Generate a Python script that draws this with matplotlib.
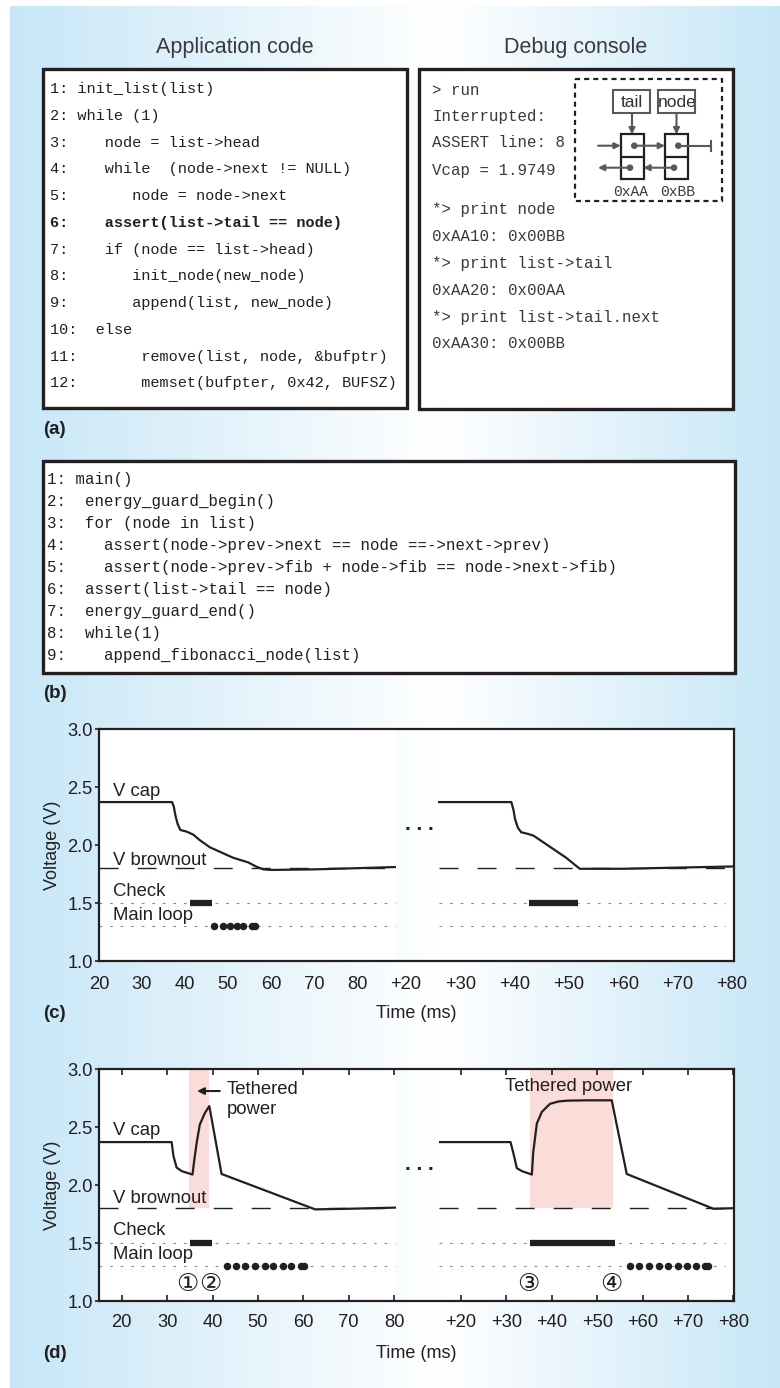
import numpy as np
import matplotlib.pyplot as plt
from matplotlib.patches import Rectangle, Circle

plt.rcParams['font.family'] = ['Liberation Sans', 'DejaVu Sans', 'Noto Sans CJK JP']

# ---------------- data ----------------
app_code = ["1: init_list(list)",
            "2: while (1)",
            "3:    node = list->head",
            "4:    while  (node->next != NULL)",
            "5:       node = node->next",
            "6:    assert(list->tail == node)",
            "7:    if (node == list->head)",
            "8:       init_node(new_node)",
            "9:       append(list, new_node)",
            "10:  else",
            "11:       remove(list, node, &bufptr)",
            "12:       memset(bufpter, 0x42, BUFSZ)"]
bold_line = 5

console = ["> run", "Interrupted:", "ASSERT line: 8", "Vcap = 1.9749",
           "*> print node", "0xAA10: 0x00BB", "*> print list->tail",
           "0xAA20: 0x00AA", "*> print list->tail.next", "0xAA30: 0x00BB"]

guard_code = ["1: main()",
              "2:  energy_guard_begin()",
              "3:  for (node in list)",
              "4:    assert(node->prev->next == node ==->next->prev)",
              "5:    assert(node->prev->fib + node->fib == node->next->fib)",
              "6:  assert(list->tail == node)",
              "7:  energy_guard_end()",
              "8:  while(1)",
              "9:    append_fibonacci_node(list)"]

yticks = [1.0, 1.5, 2.0, 2.5, 3.0]
xticks = [20, 30, 40, 50, 60, 70, 80]
left_labels = ['20', '30', '40', '50', '60', '70', '80']
right_labels = ['+20', '+30', '+40', '+50', '+60', '+70', '+80']

v_brownout = 1.8
check_level = 1.5
loop_level = 1.3

# panel (c): no tethered power
c1_t = [20, 37.0, 37.4, 37.8, 38.3, 38.9, 40.4, 41.9, 43.5, 45.8, 48.5, 51.2, 54.7, 56.5, 58.2, 60, 70, 80, 88.8]
c1_v = [2.37, 2.37, 2.33, 2.25, 2.18, 2.13, 2.115, 2.09, 2.04, 1.98, 1.935, 1.89, 1.85, 1.815, 1.79, 1.785, 1.79, 1.80, 1.81]
c2_t = [26.1, 39.4, 39.8, 40.1, 40.6, 41.2, 42.5, 43.5, 46.5, 49.5, 52.0, 60, 70, 80.4]
c2_v = [2.37, 2.37, 2.30, 2.22, 2.15, 2.11, 2.095, 2.08, 1.985, 1.89, 1.795, 1.795, 1.805, 1.815]
c1_check = [41.2, 46.3]
c2_check = [42.7, 51.7]
c1_loop = [46.8, 48.8, 50.5, 52.0, 53.4, 55.5, 56.3]

# panel (d): tethered power
d1_t = [15, 31.0, 31.4, 32.1, 33.2, 35.6, 36.0, 36.5, 37.2, 38.3, 39.3, 42.0, 62.6, 70, 80.2]
d1_v = [2.37, 2.37, 2.25, 2.15, 2.12, 2.09, 2.22, 2.36, 2.52, 2.62, 2.68, 2.095, 1.79, 1.795, 1.805]
d2_t = [15.2, 30.9, 31.5, 32.3, 33.4, 35.6, 35.9, 36.7, 37.8, 39.6, 41.5, 43.3, 48, 53.2, 56.5, 75.6, 80.1]
d2_v = [2.37, 2.37, 2.28, 2.145, 2.12, 2.09, 2.28, 2.53, 2.63, 2.70, 2.72, 2.727, 2.73, 2.73, 2.095, 1.795, 1.80]
d1_check = [35.1, 39.9]
d2_check = [35.1, 54.0]
d1_loop = [43.3, 45.2, 47.2, 49.4, 51.6, 53.4, 55.5, 57.4, 59.5, 60.2]
d2_loop = [57.2, 59.3, 61.3, 63.5, 65.7, 67.7, 69.7, 71.8, 73.7, 74.5]
d1_tether = [34.9, 39.2]
d2_tether = [35.1, 53.4]
d1_marks = [('\u2460', 34.45), ('\u2461', 39.6)]
d2_marks = [('\u2462', 34.8), ('\u2463', 53.0)]

# ---------------- layout helpers ----------------
W, H = 780, 1388
ink = '#231f20'
grey = '#58595b'
dotgrey = '#8a8c8e'
pink = '#fadcd8'

fig = plt.figure(figsize=(W / 100, H / 100), dpi=100)


def frac(x0, y0, x1, y1):
    return [x0 / W, 1 - y1 / H, (x1 - x0) / W, (y1 - y0) / H]


def ftext(x, y, s, **kw):
    fig.text(x / W, 1 - y / H, s, **kw)


# background gradient
bg = fig.add_axes([0, 0, 1, 1], zorder=0)
xs = np.arange(10, W) + 0.5
f = np.where(xs < 440, (440 - xs) / 430, (xs - 440) / 340)
blue = np.array([0.78, 0.905, 0.97])
row = 1 - f[:, None] * (1 - blue)
bg.imshow(np.repeat(row[None, :, :], 2, axis=0), extent=[10, W, H, 6],
          aspect='auto', interpolation='bilinear', zorder=0)
bg.set_xlim(0, W)
bg.set_ylim(H, 0)
bg.axis('off')

# ---------------- (a) code + console ----------------
ftext(234.5, 48, 'Application code', ha='center', va='center', fontsize=15.5, color='#3a3a3a')
ftext(576, 48, 'Debug console', ha='center', va='center', fontsize=15.5, color='#3a3a3a')

bg.add_patch(Rectangle((43, 69), 364, 339, fc='white', ec=ink, lw=2.4, zorder=1))
bg.add_patch(Rectangle((419, 69), 314, 340, fc='white', ec=ink, lw=2.4, zorder=1))

for i, line in enumerate(app_code):
    bg.text(50, 89 + 26.75 * i, line, family='Liberation Mono', fontsize=11.0,
            va='center', ha='left', color=ink,
            weight='bold' if i == bold_line else 'normal', zorder=2)

console_y = [90, 116, 142.7, 170, 209.3, 236.7, 263.3, 290.7, 317.3, 343.3]
for y, line in zip(console_y, console):
    bg.text(432, y, line, family='Liberation Mono', fontsize=11.3,
            va='center', ha='left', color='#3a3a3a', zorder=2)

# inset linked-list sketch
bg.add_patch(Rectangle((575, 79), 147, 122, fill=False, ec=ink, lw=1.6,
                       ls=(0, (2.3, 1.8)), zorder=2))
bg.add_patch(Rectangle((613, 90), 37, 23.3, fill=False, ec=grey, lw=1.5, zorder=2))
bg.add_patch(Rectangle((658.3, 90), 36.7, 23.3, fill=False, ec=grey, lw=1.5, zorder=2))
bg.text(631.5, 102, 'tail', ha='center', va='center', fontsize=12.5, color='#333333', zorder=3)
bg.text(677, 102, 'node', ha='center', va='center', fontsize=12.5, color='#333333', zorder=3)
for nx in (620.7, 665):
    bg.add_patch(Rectangle((nx, 134.3), 23, 44.7, fill=False, ec=ink, lw=1.6, zorder=2))
    bg.plot([nx, nx + 23], [156.7, 156.7], color=ink, lw=1.6, zorder=2)
arrow = dict(arrowstyle='-|>', color=grey, lw=1.5, mutation_scale=9, shrinkA=0, shrinkB=0)
for (x0, y0, x1, y1) in [(632, 113.3, 632, 134.3), (676.5, 113.3, 676.5, 134.3),
                         (598, 145.7, 620.7, 145.7), (634.3, 145.7, 665, 145.7),
                         (630, 167.7, 598, 167.7), (674, 167.7, 643.3, 167.7)]:
    bg.annotate('', xy=(x1, y1), xytext=(x0, y0), arrowprops=arrow, zorder=3)
bg.plot([678.3, 710.7], [145.7, 145.7], color=grey, lw=1.5, zorder=3)
bg.plot([710.7, 710.7], [141, 150.5], color=grey, lw=1.5, zorder=3)
for (cx, cy) in [(634.3, 145.7), (678.3, 145.7), (630, 167.7), (674, 167.7)]:
    bg.add_patch(Circle((cx, cy), 2.6, color=grey, zorder=4))
bg.text(630.7, 192, '0xAA', ha='center', va='center', family='Liberation Mono',
        fontsize=10.5, color='#3a3a3a', zorder=3)
bg.text(677.5, 192, '0xBB', ha='center', va='center', family='Liberation Mono',
        fontsize=10.5, color='#3a3a3a', zorder=3)

ftext(43, 430, '(a)', ha='left', va='center', fontsize=13.5, weight='bold', color=ink)

# ---------------- (b) guarded code ----------------
bg.add_patch(Rectangle((43, 461), 692, 212, fc='white', ec=ink, lw=2.4, zorder=1))
for i, line in enumerate(guard_code):
    bg.text(47, 479 + 22.1 * i, line, family='Liberation Mono', fontsize=11.3,
            va='center', ha='left', color=ink, zorder=2)
ftext(43, 693, '(b)', ha='left', va='center', fontsize=13.5, weight='bold', color=ink)


# ---------------- (c) and (d) charts ----------------
def frame_axes(top, bot):
    fr = fig.add_axes(frac(99, top, 734, bot), zorder=3)
    fr.patch.set_visible(False)
    fr.set_ylim(1, 3)
    fr.set_xticks([])
    fr.set_yticks(yticks)
    fr.set_yticklabels([f'{v:.1f}' for v in yticks])
    fr.tick_params(axis='y', direction='out', length=3, width=1.2, pad=1.5,
                   labelsize=13.2, colors=ink)
    for s in fr.spines.values():
        s.set_linewidth(1.6)
        s.set_color(ink)
    return fr


def data_axes(px0, px1, top, bot, xlim, labels, tick_len, pad, white_from=None):
    ax = fig.add_axes(frac(px0, top, px1, bot), zorder=2)
    ax.set_xlim(*xlim)
    ax.set_ylim(1, 3)
    if white_from is None:
        ax.set_facecolor('white')
    else:
        ax.patch.set_visible(False)
        ax.axvspan(white_from, xlim[1], color='white', lw=0, zorder=0)
    for s in ax.spines.values():
        s.set_visible(False)
    ax.set_yticks([])
    ax.set_xticks(xticks)
    ax.set_xticklabels(labels)
    ax.tick_params(axis='x', direction='in', length=tick_len, width=1.2,
                   top=tick_len > 0, bottom=True, labelsize=13.2, pad=pad, colors=ink)
    return ax


def traces(ax, t, v, x0, x1, xdot, check, loop):
    ax.hlines(v_brownout, x0, x1, colors=ink, lw=1.0, linestyles=[(0, (13.7, 13.7))], zorder=2)
    ax.hlines([check_level, loop_level], x0, xdot, colors=dotgrey, lw=0.8,
              linestyles=[(0, (2.5, 7))], zorder=2)
    ax.plot(t, v, color=ink, lw=1.6, zorder=4)
    ax.plot(check, [check_level] * 2, color=ink, lw=4.5, solid_capstyle='butt', zorder=4)
    if loop:
        ax.plot(loop, [loop_level] * len(loop), 'o', ms=4.4, color=ink, zorder=4)


def side_labels(ax, x, ys):
    for s, y in zip(['V cap', 'V brownout', 'Check', 'Main loop'], ys):
        ax.text(x, y, s, ha='left', va='center', fontsize=13.3, color=ink, zorder=5)


# panel (c)
ctop, cbot = 729, 961
c_left = data_axes(99, 395.5, ctop, cbot, (20, 20 + 296.5 / 4.3), left_labels, 0, 10.5)
c_right = data_axes(406, 734, ctop, cbot, (20, 20 + 328 / 5.43), right_labels, 0, 10.5, white_from=26.1)
frame_axes(ctop, cbot)
traces(c_left, c1_t, c1_v, 20, 88.9, 88.9, c1_check, c1_loop)
traces(c_right, c2_t, c2_v, 26.1, 80.4, 78.7, c2_check, None)
side_labels(c_left, 23.3, [2.465, 1.87, 1.60, 1.39])
ftext(419, 830, '. . .', ha='center', va='baseline', fontsize=15, weight='bold', color=ink)
ftext(53, 845, 'Voltage (V)', ha='center', va='center', rotation=90, fontsize=13, color=ink)
ftext(416, 1013, 'Time (ms)', ha='center', va='center', fontsize=13, color=ink)
ftext(43, 1013, '(c)', ha='left', va='center', fontsize=13.5, weight='bold', color=ink)

# panel (d)
dtop, dbot = 1069, 1301
d_left = data_axes(99, 395.5, dtop, dbot, (15, 15 + 296.5 / 4.54), left_labels, 4, 9.5)
d_right = data_axes(439, 734, dtop, dbot, (15.15, 15.15 + 295 / 4.54), right_labels, 4, 9.5)
frame_axes(dtop, dbot)
for ax, span in [(d_left, d1_tether), (d_right, d2_tether)]:
    ax.fill_between(span, v_brownout, 3.0, color=pink, lw=0, zorder=1)
traces(d_left, d1_t, d1_v, 15, 80.3, 80.3, d1_check, d1_loop)
traces(d_right, d2_t, d2_v, 15.2, 80.1, 78.1, d2_check, d2_loop)
side_labels(d_left, 18.1, [2.474, 1.88, 1.606, 1.40])
for ax, marks in [(d_left, d1_marks), (d_right, d2_marks)]:
    for s, x in marks:
        ax.text(x, 1.145, s, ha='center', va='center', fontsize=18, color=ink,
                family=['DejaVu Sans', 'Noto Sans CJK JP'], zorder=5)
d_left.annotate('', xy=(36.6, 2.81), xytext=(41.6, 2.81),
                arrowprops=dict(arrowstyle='-|>', color=ink, lw=1.5, mutation_scale=10,
                                shrinkA=0, shrinkB=0), zorder=5)
d_left.text(43.1, 2.735, 'Tethered\npower', ha='left', va='center', fontsize=13.3,
            color=ink, linespacing=1.2, zorder=5)
d_right.text(43.6, 2.85, 'Tethered power', ha='center', va='center', fontsize=13.3,
             color=ink, zorder=5)
ftext(419, 1169.5, '. . .', ha='center', va='baseline', fontsize=15, weight='bold', color=ink)
ftext(53, 1185, 'Voltage (V)', ha='center', va='center', rotation=90, fontsize=13, color=ink)
ftext(416, 1353, 'Time (ms)', ha='center', va='center', fontsize=13, color=ink)
ftext(43, 1353, '(d)', ha='left', va='center', fontsize=13.5, weight='bold', color=ink)

fig.savefig('out.png', dpi=100, facecolor='white')
